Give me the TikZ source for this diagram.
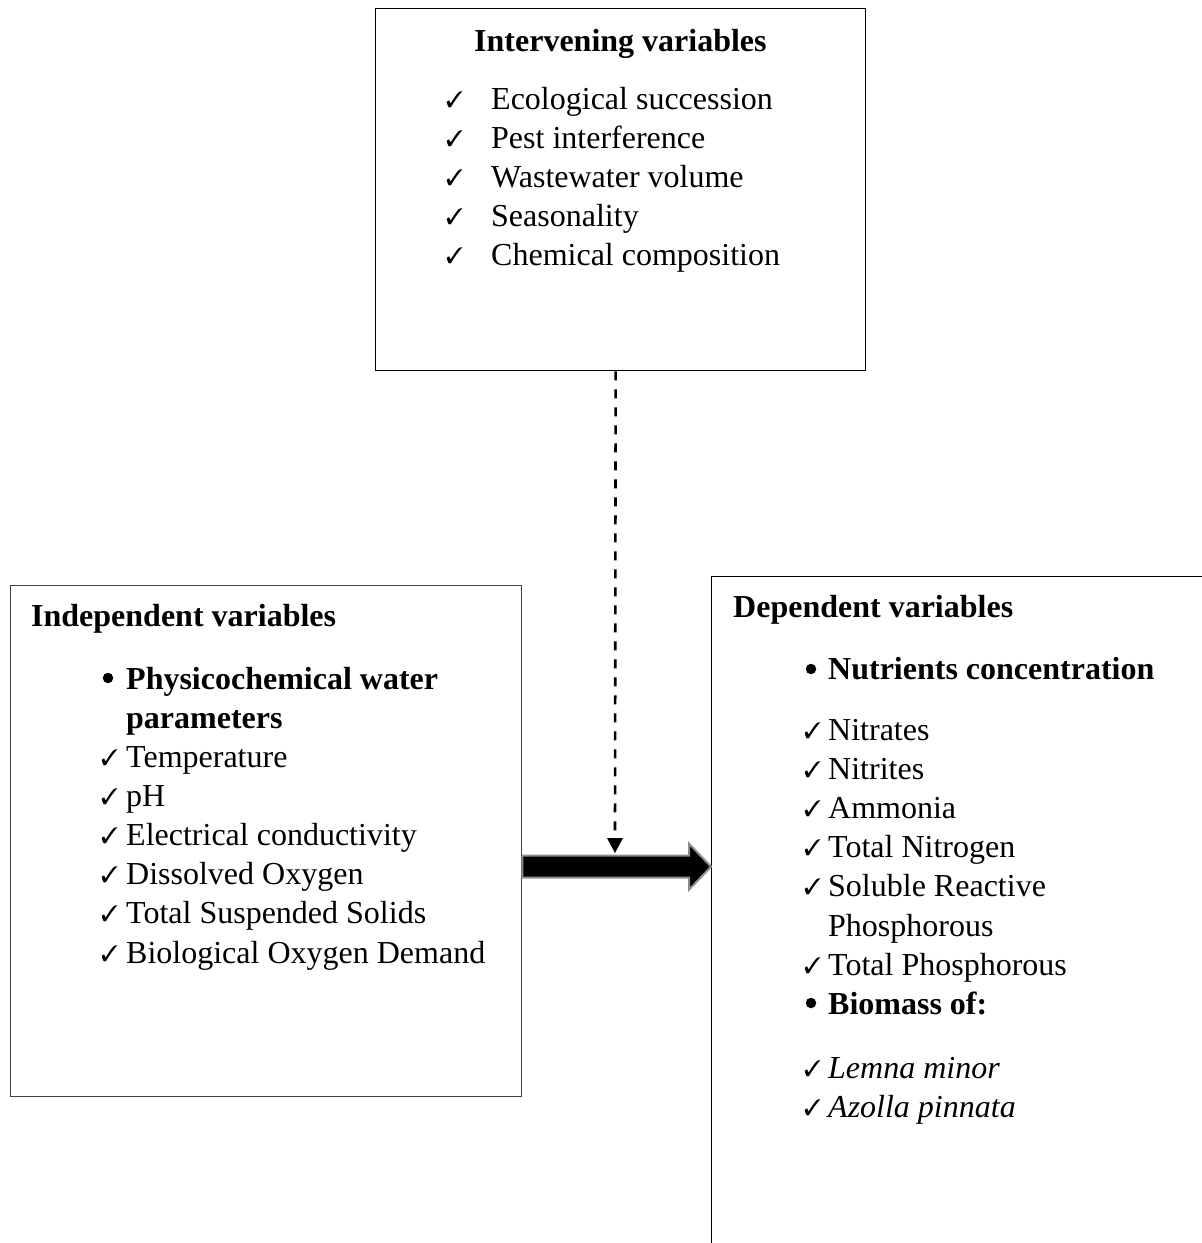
\documentclass[tikz,border=0pt]{standalone}
\usepackage{fontspec}
\setmainfont{Liberation Serif}
\usepackage{pifont}
\usetikzlibrary{calc}
\tikzset{
  box/.style={draw=black, line width=1.3pt, anchor=north west, inner sep=0pt, fill=none},
  txt/.style={anchor=base west, inner sep=0pt, font=\fontsize{32}{39}\selectfont},
  btxt/.style={txt, font=\fontsize{32}{39}\selectfont\bfseries},
  itxt/.style={txt, font=\fontsize{32}{39}\selectfont\itshape},
  chk/.style={anchor=base west, inner sep=0pt, yshift=1.5pt, font=\fontsize{22.5}{27}\selectfont},
  bul/.style={circle, fill=black, inner sep=0pt, minimum size=10.5pt},
  dashconn/.style={draw=black, line width=2.6pt, dash pattern=on 9pt off 9pt},
  blockarrow/.style={draw=black!45, line width=2pt, fill=black, line join=miter}
}
\begin{document}
\begin{tikzpicture}[x=1pt,y=-1pt]
\useasboundingbox (0,0) rectangle (1202,1243);
\clip (0,0) rectangle (1202,1243);
\fill[white] (0,0) rectangle (1202,1243);

% boxes
\node[box, minimum width=490pt, minimum height=362pt] (interv) at (375,8) {};
\node[box, draw=black!75, minimum width=511pt, minimum height=511pt] (indep) at (10,585) {};
\node[box, minimum width=600pt, minimum height=750pt] (dep) at (711,576) {};

% intervening text
\node[btxt] (t1) at (474,51) {Intervening variables};
\node[chk] (c11) at (446,109) {\ding{51}};
\node[txt] (i11) at (491,109) {Ecological succession};
\node[chk] (c12) at (446,148) {\ding{51}};
\node[txt] (i12) at (491,148) {Pest interference};
\node[chk] (c13) at (446,187) {\ding{51}};
\node[txt] (i13) at (491,187) {Wastewater volume};
\node[chk] (c14) at (446,226) {\ding{51}};
\node[txt] (i14) at (491,226) {Seasonality};
\node[chk] (c15) at (446,265) {\ding{51}};
\node[txt] (i15) at (491,265) {Chemical composition};

% independent text
\node[btxt] (t2) at (31,626) {Independent variables};
\node[bul] (b21) at (108,678) {};
\node[btxt] (i20) at (126,689) {Physicochemical water};
\node[btxt] (i20b) at (126,728) {parameters};
\node[chk] (c21) at (101,767) {\ding{51}};
\node[txt] (i21) at (126,767) {Temperature};
\node[chk] (c22) at (101,806) {\ding{51}};
\node[txt] (i22) at (126,806) {pH};
\node[chk] (c23) at (101,845) {\ding{51}};
\node[txt] (i23) at (126,845) {Electrical conductivity};
\node[chk] (c24) at (101,884) {\ding{51}};
\node[txt] (i24) at (126,884) {Dissolved Oxygen};
\node[chk] (c25) at (101,923) {\ding{51}};
\node[txt] (i25) at (126,923) {Total Suspended Solids};
\node[chk] (c26) at (101,963) {\ding{51}};
\node[txt] (i26) at (126,963) {Biological Oxygen Demand};

% dependent text
\node[btxt] (t3) at (733,617) {Dependent variables};
\node[bul] (b31) at (811,669) {};
\node[btxt] (i30) at (828,679) {Nutrients concentration};
\node[chk] (c31) at (804,740) {\ding{51}};
\node[txt] (i31) at (828,740) {Nitrates};
\node[chk] (c32) at (804,779) {\ding{51}};
\node[txt] (i32) at (828,779) {Nitrites};
\node[chk] (c33) at (804,818) {\ding{51}};
\node[txt] (i33) at (828,818) {Ammonia};
\node[chk] (c34) at (804,857) {\ding{51}};
\node[txt] (i34) at (828,857) {Total Nitrogen};
\node[chk] (c35) at (804,896) {\ding{51}};
\node[txt] (i35) at (828,896) {Soluble Reactive};
\node[txt] (i35b) at (828,936) {Phosphorous};
\node[chk] (c36) at (804,975) {\ding{51}};
\node[txt] (i36) at (828,975) {Total Phosphorous};
\node[bul] (b32) at (811,1003) {};
\node[btxt] (i37) at (828,1014) {Biomass of:};
\node[chk] (c38) at (804,1078) {\ding{51}};
\node[itxt] (i38) at (828,1078) {Lemna minor};
\node[chk] (c39) at (804,1117) {\ding{51}};
\node[itxt] (i39) at (828,1117) {Azolla pinnata};

% block arrow from independent to dependent
\coordinate (ba0) at ([yshift=-25.5pt]indep.east);
\coordinate (batip) at (dep.west |- ba0);
\draw[blockarrow] ($(ba0)+(0,-11)$) -- ($(batip)+(-22,-11)$) -- ($(batip)+(-22,-23)$)
  -- (batip) -- ($(batip)+(-22,23)$) -- ($(batip)+(-22,11)$) -- ($(ba0)+(0,11)$) -- cycle;

% dashed connector from intervening box
\coordinate (dstart) at ([xshift=-5pt]interv.south);
\coordinate (dend) at (615,853);
\coordinate (dhead) at (615,838);
\draw[dashconn] (dstart) -- (dhead);
\fill[black] (dend) -- ++(-8,-15) -- ++(16,0) -- cycle;
\end{tikzpicture}
\end{document}
